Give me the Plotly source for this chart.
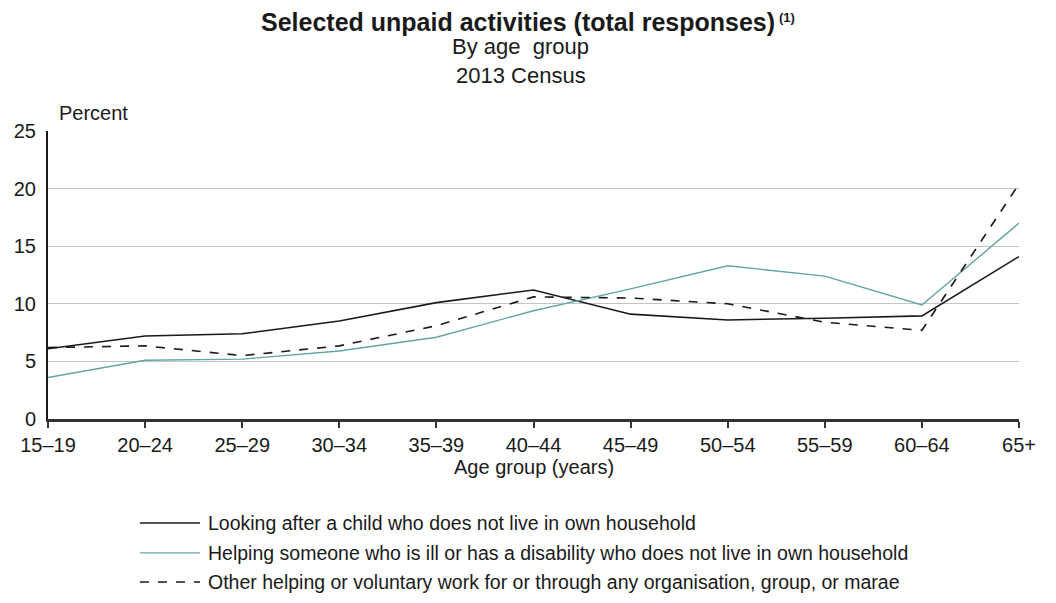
import plotly.graph_objects as go

age_groups = ["15–19", "20–24", "25–29", "30–34", "35–39", "40–44",
              "45–49", "50–54", "55–59", "60–64", "65+"]

child_care = [6.1, 7.2, 7.4, 8.5, 10.1, 11.2, 9.1, 8.6, 8.75, 8.95, 14.1]
ill_disabled = [3.6, 5.1, 5.2, 5.9, 7.1, 9.4, 11.3, 13.3, 12.4, 9.9, 17.0]
voluntary = [6.2, 6.35, 5.5, 6.35, 8.1, 10.6, 10.5, 10.0, 8.4, 7.7, 20.4]

series_names = [
    "Looking after a child who does not live in own household",
    "Helping someone who is ill or has a disability who does not live in own household",
    "Other helping or voluntary work for or through any organisation, group, or marae",
]
series_styles = [
    dict(color="#1a1a1a", width=1.6, dash="solid"),
    dict(color="#62a5a5", width=1.4, dash="solid"),
    dict(color="#1a1a1a", width=1.6, dash="dash"),
]

font = "Liberation Sans, Arial, sans-serif"

fig = go.Figure()
for name, vals, style in zip(series_names, [child_care, ill_disabled, voluntary], series_styles):
    fig.add_trace(go.Scatter(x=age_groups, y=vals, mode="lines", name=name,
                             line=style, showlegend=False))

# hand-made legend below the chart (longer sample lines than plotly's own)
legend_rows = [-0.361, -0.465, -0.566]
shapes = []
annotations = []
for name, style, ly in zip(series_names, series_styles, legend_rows):
    shapes.append(dict(type="line", xref="paper", yref="paper",
                       x0=0.0947, x1=0.1565, y0=ly, y1=ly, line=style))
    annotations.append(dict(text=name, xref="paper", yref="paper", x=0.1627, y=ly,
                            xanchor="left", yanchor="middle", showarrow=False,
                            font=dict(size=19.5)))

annotations += [
    dict(text="<b>Selected unpaid activities (total responses)</b>",
         xref="paper", yref="paper", x=0.484, y=1.378, showarrow=False,
         xanchor="center", yanchor="middle", font=dict(size=25)),
    dict(text="<b>(1)</b>", xref="paper", yref="paper", x=0.751, y=1.395,
         showarrow=False, xanchor="left", yanchor="middle", font=dict(size=13)),
    dict(text="By age  group", xref="paper", yref="paper", x=0.487, y=1.292,
         showarrow=False, xanchor="center", yanchor="middle", font=dict(size=22)),
    dict(text="2013 Census", xref="paper", yref="paper", x=0.487, y=1.194,
         showarrow=False, xanchor="center", yanchor="middle", font=dict(size=22)),
    dict(text="Percent", xref="paper", yref="paper", x=0.0093, y=1.0625,
         xanchor="left", yanchor="middle", showarrow=False, font=dict(size=20)),
    dict(text="Age group (years)", xref="paper", yref="paper", x=0.5, y=-0.1667,
         xanchor="center", yanchor="middle", showarrow=False, font=dict(size=20)),
]

# the page adds an 8px body margin, so margins are offset to keep the plot at 48..1019 x 131..419
fig.update_layout(
    width=1056,
    height=603,
    margin=dict(l=40, r=45, t=123, b=192, autoexpand=False),
    paper_bgcolor="white",
    plot_bgcolor="white",
    font=dict(family=font, size=20, color="#1a1a1a"),
    showlegend=False,
    xaxis=dict(
        type="category", range=[0, 10], showgrid=False, automargin=False,
        showline=True, linecolor="#333333", linewidth=2.5,
        ticks="outside", ticklen=6, tickcolor="#333333", tickwidth=1.5,
        tickfont=dict(size=20),
    ),
    yaxis=dict(
        range=[0, 25], dtick=5, showgrid=True, gridcolor="#c4c4c4", gridwidth=1,
        showline=True, linecolor="#1a1a1a", linewidth=2, automargin=False,
        zeroline=False, ticks="", ticklabelstandoff=6, tickfont=dict(size=20),
    ),
    shapes=shapes,
    annotations=annotations,
)

fig.write_html("out.html")
